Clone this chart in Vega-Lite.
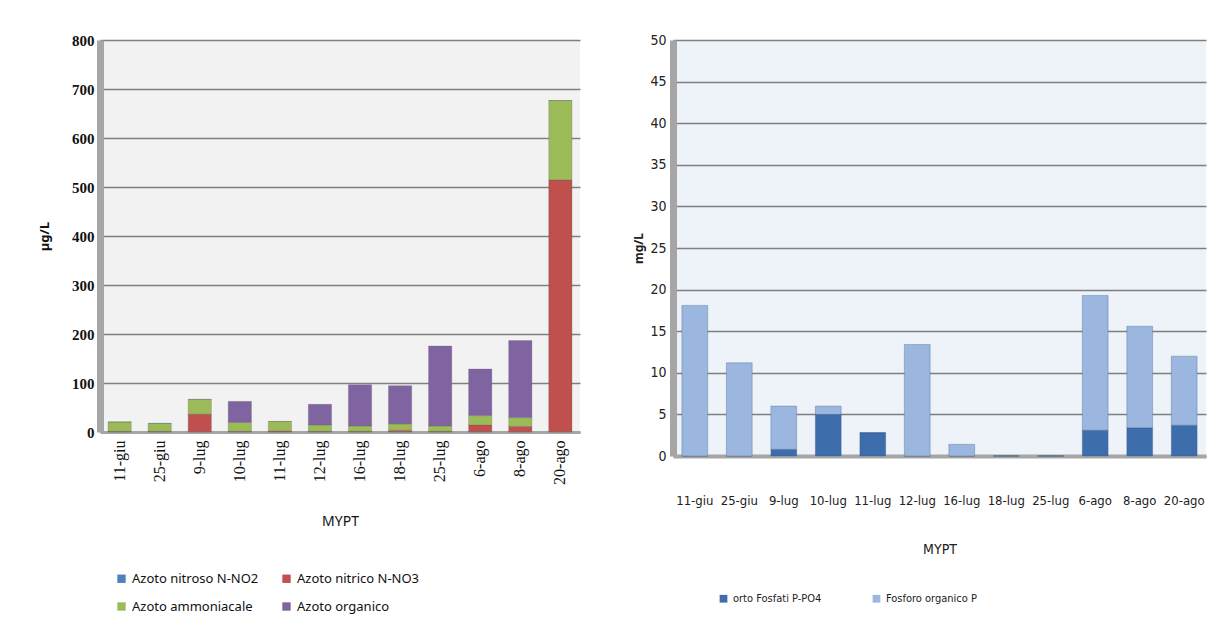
{
  "$schema": "https://vega.github.io/schema/vega-lite/v6.json",
  "background": "white",
  "padding": {"left": 38, "top": 33, "right": 6, "bottom": 0},
  "spacing": 52,
  "resolve": {"scale": {"color": "independent", "y": "independent", "x": "independent"}, "legend": {"color": "independent"}},
  "datasets": {
    "azoto": [
      {"date": "11-giu", "series": "Azoto nitroso N-NO2", "k": 1, "value": 0.5},
      {"date": "11-giu", "series": "Azoto nitrico  N-NO3", "k": 2, "value": 1},
      {"date": "11-giu", "series": "Azoto ammoniacale", "k": 3, "value": 19},
      {"date": "11-giu", "series": "Azoto organico", "k": 4, "value": 0},
      {"date": "25-giu", "series": "Azoto nitroso N-NO2", "k": 1, "value": 0.5},
      {"date": "25-giu", "series": "Azoto nitrico  N-NO3", "k": 2, "value": 1},
      {"date": "25-giu", "series": "Azoto ammoniacale", "k": 3, "value": 16},
      {"date": "25-giu", "series": "Azoto organico", "k": 4, "value": 0},
      {"date": "9-lug", "series": "Azoto nitroso N-NO2", "k": 1, "value": 0.5},
      {"date": "9-lug", "series": "Azoto nitrico  N-NO3", "k": 2, "value": 36},
      {"date": "9-lug", "series": "Azoto ammoniacale", "k": 3, "value": 30},
      {"date": "9-lug", "series": "Azoto organico", "k": 4, "value": 0},
      {"date": "10-lug", "series": "Azoto nitroso N-NO2", "k": 1, "value": 0.5},
      {"date": "10-lug", "series": "Azoto nitrico  N-NO3", "k": 2, "value": 1},
      {"date": "10-lug", "series": "Azoto ammoniacale", "k": 3, "value": 18},
      {"date": "10-lug", "series": "Azoto organico", "k": 4, "value": 43},
      {"date": "11-lug", "series": "Azoto nitroso N-NO2", "k": 1, "value": 0.5},
      {"date": "11-lug", "series": "Azoto nitrico  N-NO3", "k": 2, "value": 2},
      {"date": "11-lug", "series": "Azoto ammoniacale", "k": 3, "value": 19},
      {"date": "11-lug", "series": "Azoto organico", "k": 4, "value": 0},
      {"date": "12-lug", "series": "Azoto nitroso N-NO2", "k": 1, "value": 0.5},
      {"date": "12-lug", "series": "Azoto nitrico  N-NO3", "k": 2, "value": 1},
      {"date": "12-lug", "series": "Azoto ammoniacale", "k": 3, "value": 13},
      {"date": "12-lug", "series": "Azoto organico", "k": 4, "value": 42},
      {"date": "16-lug", "series": "Azoto nitroso N-NO2", "k": 1, "value": 0.5},
      {"date": "16-lug", "series": "Azoto nitrico  N-NO3", "k": 2, "value": 1},
      {"date": "16-lug", "series": "Azoto ammoniacale", "k": 3, "value": 11},
      {"date": "16-lug", "series": "Azoto organico", "k": 4, "value": 84},
      {"date": "18-lug", "series": "Azoto nitroso N-NO2", "k": 1, "value": 0.5},
      {"date": "18-lug", "series": "Azoto nitrico  N-NO3", "k": 2, "value": 3},
      {"date": "18-lug", "series": "Azoto ammoniacale", "k": 3, "value": 13},
      {"date": "18-lug", "series": "Azoto organico", "k": 4, "value": 78},
      {"date": "25-lug", "series": "Azoto nitroso N-NO2", "k": 1, "value": 0.5},
      {"date": "25-lug", "series": "Azoto nitrico  N-NO3", "k": 2, "value": 1},
      {"date": "25-lug", "series": "Azoto ammoniacale", "k": 3, "value": 11},
      {"date": "25-lug", "series": "Azoto organico", "k": 4, "value": 163},
      {"date": "6-ago", "series": "Azoto nitroso N-NO2", "k": 1, "value": 0.5},
      {"date": "6-ago", "series": "Azoto nitrico  N-NO3", "k": 2, "value": 14},
      {"date": "6-ago", "series": "Azoto ammoniacale", "k": 3, "value": 19},
      {"date": "6-ago", "series": "Azoto organico", "k": 4, "value": 95},
      {"date": "8-ago", "series": "Azoto nitroso N-NO2", "k": 1, "value": 0.5},
      {"date": "8-ago", "series": "Azoto nitrico  N-NO3", "k": 2, "value": 11},
      {"date": "8-ago", "series": "Azoto ammoniacale", "k": 3, "value": 18},
      {"date": "8-ago", "series": "Azoto organico", "k": 4, "value": 157},
      {"date": "20-ago", "series": "Azoto nitroso N-NO2", "k": 1, "value": 0.5},
      {"date": "20-ago", "series": "Azoto nitrico  N-NO3", "k": 2, "value": 514},
      {"date": "20-ago", "series": "Azoto ammoniacale", "k": 3, "value": 162},
      {"date": "20-ago", "series": "Azoto organico", "k": 4, "value": 0}
    ],
    "fosforo": [
      {"date": "11-giu", "series": "orto Fosfati P-PO4", "k": 1, "value": 0},
      {"date": "11-giu", "series": "Fosforo organico P", "k": 2, "value": 18.1},
      {"date": "25-giu", "series": "orto Fosfati P-PO4", "k": 1, "value": 0},
      {"date": "25-giu", "series": "Fosforo organico P", "k": 2, "value": 11.2},
      {"date": "9-lug", "series": "orto Fosfati P-PO4", "k": 1, "value": 0.8},
      {"date": "9-lug", "series": "Fosforo organico P", "k": 2, "value": 5.2},
      {"date": "10-lug", "series": "orto Fosfati P-PO4", "k": 1, "value": 5.0},
      {"date": "10-lug", "series": "Fosforo organico P", "k": 2, "value": 1.0},
      {"date": "11-lug", "series": "orto Fosfati P-PO4", "k": 1, "value": 2.8},
      {"date": "11-lug", "series": "Fosforo organico P", "k": 2, "value": 0},
      {"date": "12-lug", "series": "orto Fosfati P-PO4", "k": 1, "value": 0},
      {"date": "12-lug", "series": "Fosforo organico P", "k": 2, "value": 13.4},
      {"date": "16-lug", "series": "orto Fosfati P-PO4", "k": 1, "value": 0},
      {"date": "16-lug", "series": "Fosforo organico P", "k": 2, "value": 1.4},
      {"date": "18-lug", "series": "orto Fosfati P-PO4", "k": 1, "value": 0},
      {"date": "18-lug", "series": "Fosforo organico P", "k": 2, "value": 0},
      {"date": "25-lug", "series": "orto Fosfati P-PO4", "k": 1, "value": 0},
      {"date": "25-lug", "series": "Fosforo organico P", "k": 2, "value": 0},
      {"date": "6-ago", "series": "orto Fosfati P-PO4", "k": 1, "value": 3.1},
      {"date": "6-ago", "series": "Fosforo organico P", "k": 2, "value": 16.2},
      {"date": "8-ago", "series": "orto Fosfati P-PO4", "k": 1, "value": 3.4},
      {"date": "8-ago", "series": "Fosforo organico P", "k": 2, "value": 12.2},
      {"date": "20-ago", "series": "orto Fosfati P-PO4", "k": 1, "value": 3.7},
      {"date": "20-ago", "series": "Fosforo organico P", "k": 2, "value": 8.3}
    ]
  },
  "hconcat": [
    {
      "width": 480,
      "height": 392,
      "data": {"name": "azoto"},
      "view": {"fill": "#f2f2f2", "stroke": null},
      "mark": {"type": "bar", "stroke": "#555555", "strokeWidth": 0.4, "strokeOpacity": 0.6},
      "encoding": {
        "x": {
          "field": "date", "type": "nominal",
          "sort": ["11-giu", "25-giu", "9-lug", "10-lug", "11-lug", "12-lug", "16-lug", "18-lug", "25-lug", "6-ago", "8-ago", "20-ago"],
          "scale": {"paddingInner": 0.42, "paddingOuter": 0.2},
          "axis": {
            "title": "MYPT", "labelAngle": -90, "labelFont": "Liberation Serif", "labelFontSize": 16,
            "labelColor": "#111111", "labelPadding": 8, "ticks": false,
            "domainColor": "#a6a6a6", "domainWidth": 3,
            "titleFont": "Noto Sans", "titleFontSize": 14, "titleFontWeight": "normal", "titleColor": "#111111", "titlePadding": 30
          }
        },
        "y": {
          "field": "value", "type": "quantitative", "stack": "zero",
          "scale": {"domain": [0, 800]},
          "axis": {
            "title": "µg/L", "values": [0, 100, 200, 300, 400, 500, 600, 700, 800], "labelOverlap": false,
            "labelFont": "Liberation Serif", "labelFontSize": 15, "labelFontWeight": "bold", "labelColor": "#111111",
            "labelPadding": 6, "ticks": false, "domainColor": "#a6a6a6", "domainWidth": 7,
            "gridColor": "#7f7f7f", "gridWidth": 1.5,
            "titleFont": "Noto Sans", "titleFontSize": 13, "titleFontWeight": "bold", "titleColor": "#111111", "titlePadding": 20
          }
        },
        "color": {
          "field": "series", "type": "nominal",
          "scale": {
            "domain": ["Azoto nitroso N-NO2", "Azoto nitrico  N-NO3", "Azoto ammoniacale", "Azoto organico"],
            "range": ["#4f81bd", "#c0504d", "#9bbb59", "#8064a2"]
          },
          "legend": {
            "title": null, "orient": "bottom", "direction": "horizontal", "columns": 2,
            "symbolType": "square", "symbolSize": 70, "symbolStrokeWidth": 0, "symbolOffset": 15,
            "labelFont": "Noto Sans", "labelFontSize": 13, "labelColor": "#111111",
            "rowPadding": 14, "columnPadding": 6, "offset": 43, "padding": 0
          }
        },
        "order": {"field": "k", "type": "quantitative"}
      }
    },
    {
      "width": 533,
      "height": 416,
      "data": {"name": "fosforo"},
      "view": {"fill": "#eef2f9", "stroke": null},
      "mark": {"type": "bar", "stroke": "#2d4f7c", "strokeWidth": 0.5, "strokeOpacity": 0.6},
      "encoding": {
        "x": {
          "field": "date", "type": "nominal",
          "sort": ["11-giu", "25-giu", "9-lug", "10-lug", "11-lug", "12-lug", "16-lug", "18-lug", "25-lug", "6-ago", "8-ago", "20-ago"],
          "scale": {"paddingInner": 0.42, "paddingOuter": 0.2},
          "axis": {
            "title": "MYPT", "labelAngle": 0, "labelFont": "DejaVu Sans Condensed", "labelFontSize": 13,
            "labelColor": "#222222", "labelPadding": 38, "ticks": false,
            "domainColor": "#a6a6a6", "domainWidth": 4,
            "titleFont": "DejaVu Sans Condensed", "titleFontSize": 14, "titleFontWeight": "normal", "titleColor": "#222222", "titlePadding": 35
          }
        },
        "y": {
          "field": "value", "type": "quantitative", "stack": "zero",
          "scale": {"domain": [0, 50]},
          "axis": {
            "title": "mg/L", "values": [0, 5, 10, 15, 20, 25, 30, 35, 40, 45, 50], "labelOverlap": false,
            "labelFont": "DejaVu Sans Condensed", "labelFontSize": 14, "labelColor": "#222222",
            "labelPadding": 7, "ticks": false, "domainColor": "#a6a6a6", "domainWidth": 7,
            "gridColor": "#7f7f7f", "gridWidth": 1.5,
            "titleFont": "Noto Sans", "titleFontSize": 12, "titleFontWeight": "bold", "titleColor": "#222222", "titlePadding": 4
          }
        },
        "color": {
          "field": "series", "type": "nominal",
          "scale": {
            "domain": ["orto Fosfati P-PO4", "Fosforo organico P"],
            "range": ["#3e6dab", "#9bb6df"]
          },
          "legend": {
            "title": null, "orient": "bottom", "direction": "horizontal",
            "symbolType": "square", "symbolSize": 60, "symbolStrokeWidth": 0, "symbolOffset": 45,
            "labelFont": "DejaVu Sans Condensed", "labelFontSize": 11, "labelColor": "#222222",
            "columnPadding": 4, "offset": 37, "padding": 0
          }
        },
        "order": {"field": "k", "type": "quantitative"}
      }
    }
  ]
}
